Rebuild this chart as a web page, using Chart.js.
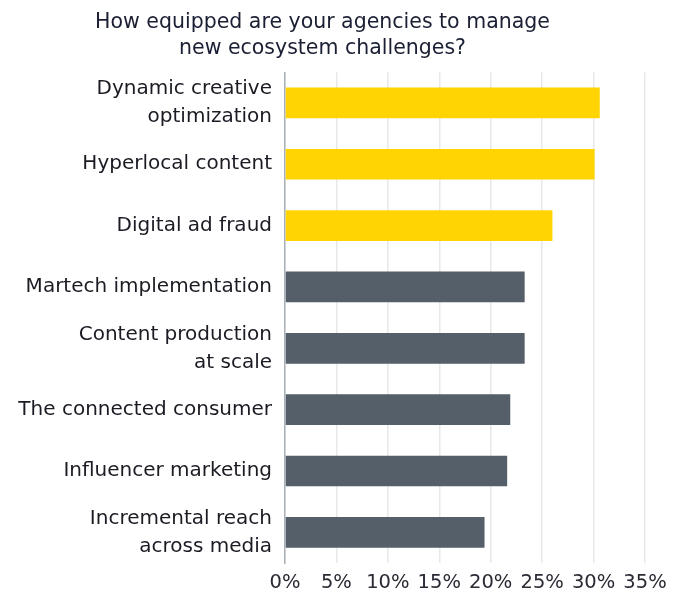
<!DOCTYPE html>
<html><head><meta charset="utf-8">
<script src="https://cdn.jsdelivr.net/npm/chart.js@4/dist/chart.umd.min.js"></script>
<style>html,body{margin:0;padding:0;background:#fff}#wrap{width:683px;height:594px}</style>
</head><body><div id="wrap"><canvas id="c"></canvas></div>
<script>
const categories = [
  ["Dynamic creative","optimization"],
  "Hyperlocal content",
  "Digital ad fraud",
  "Martech implementation",
  ["Content production","at scale"],
  "The connected consumer",
  "Influencer marketing",
  ["Incremental reach","across media"]
];
const values = [30.6, 30.1, 26.0, 23.3, 23.3, 21.9, 21.6, 19.4];
const barColors = ["#FFD400","#FFD400","#FFD400","#555F69","#555F69","#555F69","#555F69","#555F69"];
const tickValues = [0,5,10,15,20,25,30,35];
const titleLines = ["How equipped are your agencies to manage","new ecosystem challenges?"];

const FONT = "DejaVu Sans";
new Chart(document.getElementById('c'), {
  type: 'bar',
  data: { labels: categories, datasets: [{ data: values, backgroundColor: barColors, barPercentage: 0.5, categoryPercentage: 1.0 }] },
  options: {
    indexAxis: 'y', responsive: true, maintainAspectRatio: false, animation: false,
    layout: { padding: { left: 0, right: 38, top: 8, bottom: 0 } },
    plugins: {
      legend: { display: false }, tooltip: { enabled: false },
      title: { display: true, text: titleLines, color: '#1a1f33', font: { family: FONT, size: 20.5, weight: 'normal', lineHeight: 1.25 }, padding: { top: 2, bottom: 11 } }
    },
    scales: {
      x: {
        min: 0, max: 35,
        afterBuildTicks: (s) => { s.ticks = tickValues.map(v => ({ value: v })); },
        ticks: { callback: v => v + '%', color: '#2a2a35', font: { family: FONT, size: 19.5 }, padding: 8 },
        grid: { color: '#e8e8e8', lineWidth: 1.5, drawTicks: false },
        border: { display: false },
        afterFit: (s) => { s.height = 31; }
      },
      y: {
        ticks: { color: '#1b1b24', font: { family: FONT, size: 20, lineHeight: 1.4 }, padding: 5 },
        grid: { display: false },
        border: { color: '#aab2b9', width: 1.5 },
        afterFit: (s) => { s.width = 285; s.paddingBottom = 0; s.paddingTop = 0; }
      }
    }
  }
});
</script></body></html>
